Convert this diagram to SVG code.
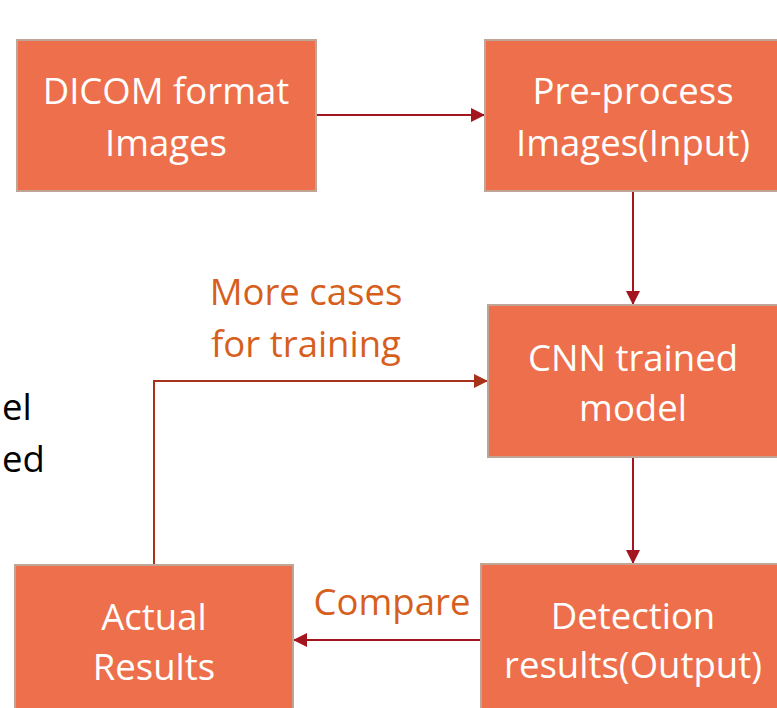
<svg xmlns="http://www.w3.org/2000/svg" width="777" height="708" viewBox="0 0 777 708">
<defs>
<style>
.box{fill:#EE6F4B;stroke:#C0A597;stroke-width:2}
.bt{fill:#FFFFFF;font-family:"Open Sans","Noto Sans",sans-serif;font-size:36.5px;text-anchor:middle}
.lbl{fill:#D75F1E;font-family:"Open Sans","Noto Sans",sans-serif;font-size:36.5px;text-anchor:middle}
.side{fill:#000000;font-family:"Open Sans","Noto Sans",sans-serif;font-size:36.5px}
.c1{fill:none;stroke:#A3161F;stroke-width:2}
.c2{fill:none;stroke:#A8321A;stroke-width:2}
</style>
<marker id="ah1" viewBox="0 0 10 10" refX="10" refY="5" markerWidth="7" markerHeight="7" orient="auto" markerUnits="strokeWidth"><path d="M0,0 L10,5 L0,10 z" fill="#A3161F"/></marker>
<marker id="ah2" viewBox="0 0 10 10" refX="10" refY="5" markerWidth="7" markerHeight="7" orient="auto" markerUnits="strokeWidth"><path d="M0,0 L10,5 L0,10 z" fill="#A8321A"/></marker>
</defs>
<rect width="777" height="708" fill="#FFFFFF"/>
<g id="side-text">
<text class="side" x="2" y="420">el</text>
<text class="side" x="2" y="472">ed</text>
</g>
<g id="connectors">
<line class="c1" x1="316" y1="115" x2="485" y2="115" marker-end="url(#ah1)"/>
<line class="c1" x1="633" y1="192" x2="633" y2="305" marker-end="url(#ah1)"/>
<polyline class="c2" points="154,565 154,381 488,381" marker-end="url(#ah2)"/>
<line class="c1" x1="633" y1="457" x2="633" y2="564" marker-end="url(#ah1)"/>
<line class="c1" x1="481" y1="640" x2="293" y2="640" marker-end="url(#ah1)"/>
</g>
<g id="labels">
<text class="lbl" x="306" y="305">More cases</text>
<text class="lbl" x="306" y="357">for training</text>
<text class="lbl" x="392" y="615">Compare</text>
</g>
<g id="node-dicom">
<rect class="box" x="17" y="40" width="299" height="151"/>
<text class="bt" x="166" y="104">DICOM format</text>
<text class="bt" x="166" y="156">Images</text>
</g>
<g id="node-preprocess">
<rect class="box" x="485" y="40" width="296" height="151"/>
<text class="bt" x="633" y="104">Pre-process</text>
<text class="bt" x="633" y="156">Images(Input)</text>
</g>
<g id="node-cnn">
<rect class="box" x="488" y="305" width="290" height="152"/>
<text class="bt" x="633" y="371">CNN trained</text>
<text class="bt" x="633" y="421">model</text>
</g>
<g id="node-detection">
<rect class="box" x="481" y="564" width="304" height="160"/>
<text class="bt" x="633" y="629">Detection</text>
<text class="bt" x="633" y="678">results(Output)</text>
</g>
<g id="node-actual">
<rect class="box" x="15" y="565" width="278" height="160"/>
<text class="bt" x="154" y="630">Actual</text>
<text class="bt" x="154" y="680">Results</text>
</g>
</svg>
